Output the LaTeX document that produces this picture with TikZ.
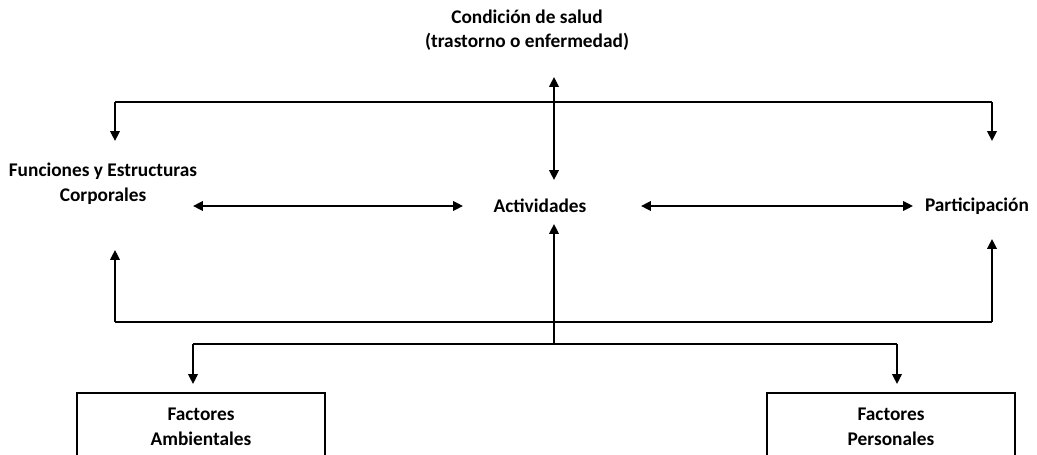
\documentclass[tikz,border=0pt]{standalone}
\usepackage{fontspec}
\setmainfont{Carlito}
\usetikzlibrary{arrows.meta, positioning}
\tikzstyle{label} = [font=\bfseries\fontsize{11}{14}\selectfont, align=center, inner sep=0pt]
\tikzstyle{factor} = [rectangle, draw=black, line width=1.2pt, minimum width=248*0.02cm, minimum height=68*0.02cm, font=\bfseries\fontsize{11}{14}\selectfont, align=center, anchor=north]
\tikzstyle{bar} = [line width=1.4pt]
\tikzstyle{arrow} = [line width=1.1pt,->,>={Triangle[length=5.6pt,width=5.4pt]}]
\tikzstyle{twoway} = [line width=1.1pt,<->,>={Triangle[length=5.6pt,width=5.4pt]}]

\begin{document}
\begin{tikzpicture}[x=0.02cm, y=-0.02cm]
\useasboundingbox (0,0) rectangle (1037,455);

\node[label] (salud) at (527,30) {Condición de salud\\(trastorno o enfermedad)};
\node[label] (funciones) at (103,184) {Funciones y Estructuras\\Corporales};
\node[label] (actividades) at (540,206) {Actividades};
\node[label] (participacion) at (977,206) {Participación};

\node[factor] (ambientales) at (201,392) {Factores\\Ambientales};
\node[factor] (personales) at (891,392) {Factores\\Personales};

% junctions and arrow ends
\coordinate (topleft) at (115,102);
\coordinate (topright) at (992,102);
\coordinate (funin) at (115,141);
\coordinate (partin) at (992,141);
\coordinate (saludend) at (554,77);
\coordinate (actend) at (554,180);
\coordinate (funright) at (193,206);
\coordinate (actleft) at (463,206);
\coordinate (actright) at (641,206);
\coordinate (partleft) at (913,206);
\coordinate (lowleft) at (115,322);
\coordinate (lowright) at (992,322);
\coordinate (funout) at (115,250);
\coordinate (partout) at (992,239);
\coordinate (split) at (554,344);
\coordinate (actup) at (554,224);
\coordinate (splitleft) at (193,344);
\coordinate (splitright) at (897,344);

% health condition
\draw [bar] (topleft) -- (topright);
\draw [arrow] (topleft) -- (funin);
\draw [arrow] (topright) -- (partin);
\draw [twoway] (saludend) -- (actend);

% middle row
\draw [twoway] (funright) -- (actleft);
\draw [twoway] (actright) -- (partleft);

% contextual factors
\draw [bar] (lowleft) -- (lowright);
\draw [arrow] (lowleft) -- (funout);
\draw [arrow] (lowright) -- (partout);
\draw [arrow] (split) -- (actup);
\draw [bar] (splitleft) -- (splitright);
\draw [arrow] (splitleft) -- (splitleft |- ambientales.north) [shorten >=8*0.02cm];
\draw [arrow] (splitright) -- (splitright |- personales.north) [shorten >=8*0.02cm];

\end{tikzpicture}
\end{document}
